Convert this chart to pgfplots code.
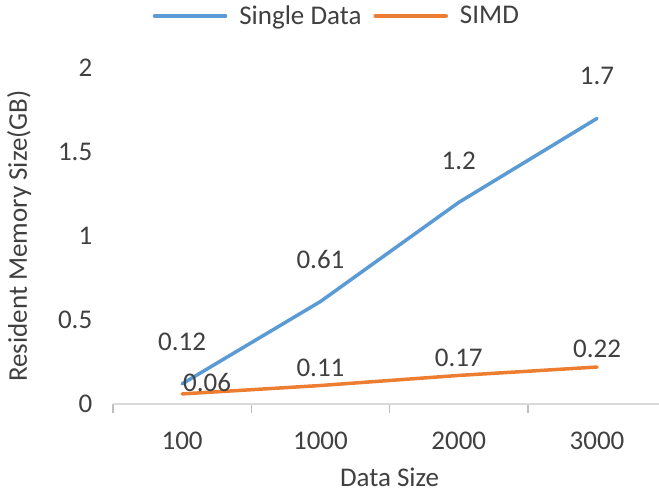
\documentclass[border=0pt]{standalone}
\usepackage{pgfplots}
\pgfplotsset{compat=1.18}
\usepackage{pgfplotstable}
\usepackage{fontspec}
\setmainfont{Carlito}
\newcommand\fs{\fontsize{27}{32}\selectfont}
\definecolor{blueS}{RGB}{91,155,213}
\definecolor{orangeS}{RGB}{237,125,49}
\definecolor{axisgray}{RGB}{217,217,217}
\definecolor{tickgray}{RGB}{191,191,191}
\definecolor{txt}{RGB}{64,64,64}
\pgfplotstableread{
x y lab
0 0.12 0.12
1 0.61 0.61
2 1.2 1.2
3 1.7 1.7
}\single
\pgfplotstableread{
x y lab
0 0.06 0.06
1 0.11 0.11
2 0.17 0.17
3 0.22 0.22
}\simd
\begin{document}
\begin{tikzpicture}
\path[use as bounding box] (-113pt,-90pt) rectangle (546pt,404pt);
\begin{axis}[
  at={(0pt,0pt)}, anchor=south west,
  scale only axis, width=546pt, height=336pt,
  xmin=-0.5, xmax=3.448, ymin=0, ymax=2,
  clip=false,
  axis x line*=bottom, axis y line*=left,
  y axis line style={draw=none},
  x axis line style={draw=axisgray, line width=1.5pt},
  xtick={0,1,2,3}, xticklabels={100,1000,2000,3000},
  major x tick style={draw=none},
  minor xtick={-0.5,0.5,1.5,2.5},
  minor x tick style={draw=tickgray, line width=1.5pt},
  minor tick length=9pt, tick align=outside,
  ytick={0,0.5,1,1.5,2}, ytick style={draw=none},
  /pgf/number format/assume math mode=true,
  every tick label/.append style={font=\fs, text=txt},
  xticklabel style={anchor=center, yshift=-33pt},
  yticklabel style={anchor=east, xshift=-13pt},
  xlabel={Data Size}, ylabel={Resident Memory Size(GB)},
  every axis x label/.style={at={(axis cs:1.5,0)}, anchor=center, inner sep=0pt, yshift=-73pt, font=\fs, text=txt},
  every axis y label/.style={at={(axis description cs:-0.172,0.5)}, rotate=90, anchor=center, font=\fs, text=txt},
  legend style={at={(axis description cs:0.41,1.1548)}, anchor=center, draw=none, fill=none,
    legend columns=2, font=\fs, text=txt,
    /tikz/every odd column/.append style={column sep=10pt},
    /tikz/every even column/.append style={column sep=10pt}},
  legend image code/.code={\draw[#1] (0pt,0pt) -- (71pt,0pt);},
  nodes near coords, point meta=explicit symbolic,
  every node near coord/.append style={font=\fs, text=txt, anchor=center},
]
\addplot[blueS, line width=3.5pt, line cap=round, line join=round,
  every node near coord/.append style={yshift=42pt}]
  table[x=x, y=y, meta=lab] {\single};
\addlegendentry{Single Data}
\addplot[orangeS, line width=3.5pt, line cap=round, line join=round,
  every node near coord/.append style={yshift=18pt},
  coordinate style/.condition={x==0}{xshift=25pt, yshift=-7pt}]
  table[x=x, y=y, meta=lab] {\simd};
\addlegendentry{SIMD}
\end{axis}
\end{tikzpicture}
\end{document}
